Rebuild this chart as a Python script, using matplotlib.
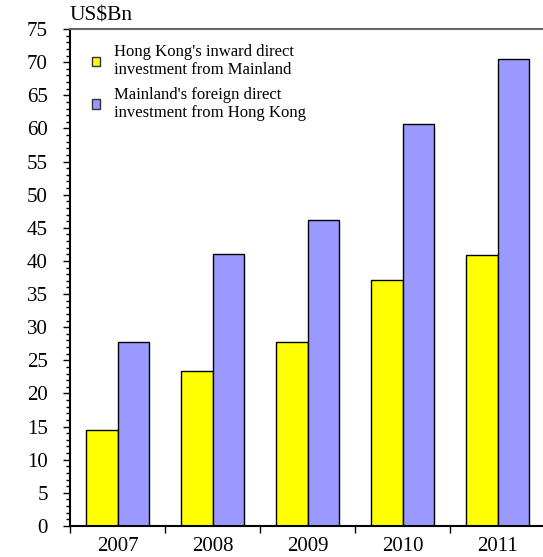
import numpy as np
import matplotlib.pyplot as plt
from matplotlib.ticker import MultipleLocator

years = ["2007", "2008", "2009", "2010", "2011"]
hk_inward = [14.5, 23.4, 27.8, 37.1, 40.9]
ml_foreign = [27.8, 41.0, 46.2, 60.7, 70.5]
series_labels = [
    "Hong Kong's inward direct\ninvestment from Mainland",
    "Mainland's foreign direct\ninvestment from Hong Kong",
]

plt.rcParams["font.family"] = ["Liberation Serif", "DejaVu Serif"]

W, H = 543, 557
fig = plt.figure(figsize=(W / 100, H / 100), dpi=100)
ax = fig.add_axes([70 / W, 1 - 526 / H, 475 / W, (526 - 29) / H])

x = np.arange(len(years))
bw = 0.335
ax.bar(x - bw / 2, hk_inward, bw, color="#FFFF00", edgecolor="black",
       linewidth=1, label=series_labels[0])
ax.bar(x + bw / 2, ml_foreign, bw, color="#9999FF", edgecolor="black",
       linewidth=1, label=series_labels[1])

ax.set_xlim(-0.5, len(years) - 0.5)
ax.set_ylim(0, 75)
ax.yaxis.set_major_locator(MultipleLocator(5))
ax.yaxis.set_minor_locator(MultipleLocator(1))
ax.tick_params(axis="y", which="major", direction="out", length=5, width=1,
               labelsize=15, pad=11)
ax.tick_params(axis="y", which="minor", direction="out", length=3, width=1)

# category ticks sit between the year groups
ax.set_xticks(np.arange(-0.5, len(years), 1.0))
ax.set_xticklabels([])
ax.set_xticks(x, minor=True)
ax.set_xticklabels(years, minor=True)
ax.tick_params(axis="x", which="major", direction="out", length=5, width=1)
ax.tick_params(axis="x", which="minor", length=0, labelsize=15, pad=8)

ax.spines["right"].set_visible(False)
ax.spines["top"].set_color("#666666")
ax.spines["top"].set_linewidth(1.5)
ax.spines["left"].set_linewidth(1.5)
ax.spines["bottom"].set_linewidth(1.5)

fig.text(70 / W, 1 - 16 / H, "US$Bn", fontsize=15.5, ha="left", va="center")

leg = ax.legend(loc="upper left", bbox_to_anchor=(0.025, 0.99), frameon=False,
                fontsize=12, handlelength=0.5, handleheight=0.5,
                handletextpad=0.85, labelspacing=0.5, borderaxespad=0.2)
for h in leg.legend_handles:
    h.set_edgecolor("#333333")

fig.savefig("out.png", dpi=100)
